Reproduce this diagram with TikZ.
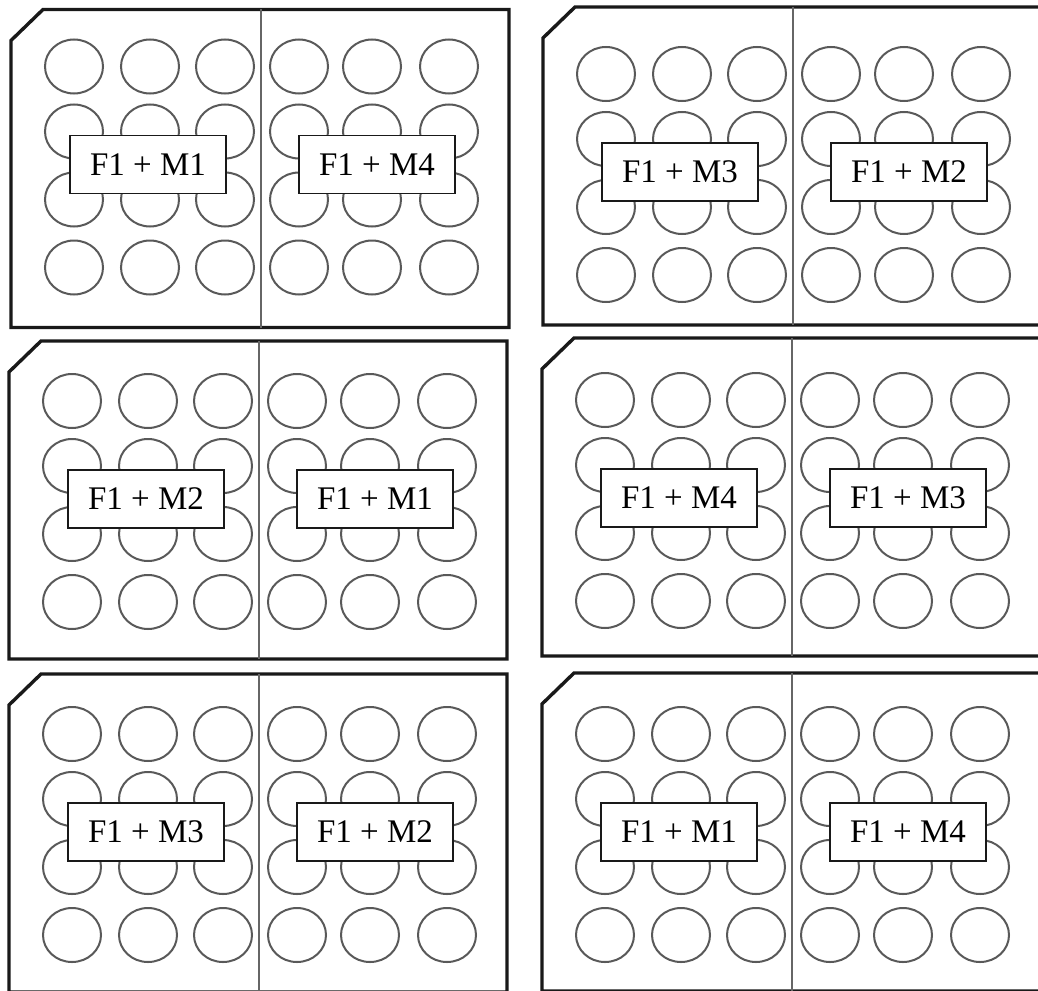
\documentclass[tikz,border=0pt]{standalone}
\usepackage{fontspec}
\setmainfont{Liberation Serif}
\tikzset{
  plate/.style={line width=1.7pt, draw=black!90, line join=miter},
  divider/.style={line width=0.8pt, draw=black!60},
  well/.style={line width=1pt, draw=black!65},
  mix/.style={draw=black!90, line width=0.9pt, fill=white, minimum width=78pt, minimum height=29pt, inner sep=0pt, font=\fontsize{16.5}{18}\selectfont}
}
\newcommand{\wellplate}[6]{%
  \begin{scope}[shift={(#2,#3)}]
    \draw[plate] (0,31) -- (32,0) -- (498,0) -- (498,318) -- (0,318) -- cycle;
    \draw[divider] (250,0) -- (250,318);
    \begin{scope}[yshift=#6*-0.5pt]
      \foreach \cx in {63,139,214,288,361,438} {
        \foreach \cy in {62,127,195,263} {
          \draw[well] (\cx,\cy) ellipse [x radius=29, y radius=27];
        }
      }
      \node[mix] (#1l) at (137,160) {#4};
      \node[mix] (#1r) at (366,160) {#5};
    \end{scope}
  \end{scope}}
\begin{document}
\begin{tikzpicture}[x=0.5pt, y=-0.5pt]
  \useasboundingbox (0,0) rectangle (1038,990);
  \clip (0,0) rectangle (1038,990);
  \fill[white] (0,0) rectangle (1038,990);
  \wellplate{pa}{11}{9.5}{F1 + M1}{F1 + M4}{-5}
  \wellplate{pb}{543}{7}{F1 + M3}{F1 + M2}{5}
  \wellplate{pc}{9}{341}{F1 + M2}{F1 + M1}{-2}
  \wellplate{pd}{542}{338}{F1 + M4}{F1 + M3}{0}
  \wellplate{pe}{9}{674}{F1 + M3}{F1 + M2}{-2}
  \wellplate{pf}{542}{673}{F1 + M1}{F1 + M4}{-1}
\end{tikzpicture}
\end{document}
